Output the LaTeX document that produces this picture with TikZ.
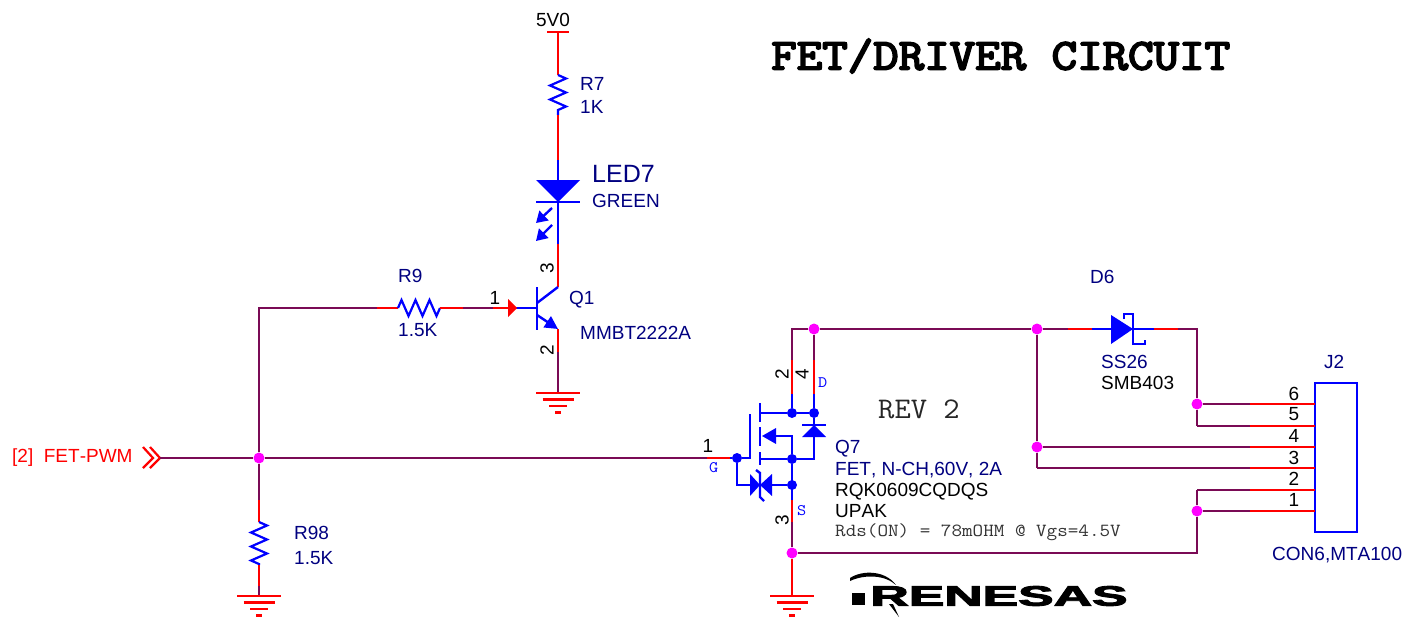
\documentclass[tikz,border=0pt]{standalone}
\usepackage{fontspec}
\setmainfont[Kerning=Off]{Liberation Sans}
\newfontfamily\titlefam[FakeBold=4]{Latin Modern Mono}
\newfontfamily\monofam{Latin Modern Mono}
\newfontfamily\logofam[FakeBold=3]{Liberation Sans Bold}
\usetikzlibrary{arrows.meta,decorations.pathmorphing}
\definecolor{wirecol}{HTML}{7A0A55}
\definecolor{pincol}{HTML}{FF0000}
\definecolor{bodycol}{HTML}{0000FF}
\definecolor{labcol}{HTML}{000080}
\definecolor{dotcol}{HTML}{FF00FF}
\tikzset{
  wire/.style={draw=wirecol,line width=2.2pt},
  pinw/.style={draw=pincol,line width=2.2pt},
  body/.style={draw=bodycol,line width=2.4pt},
  resist/.style={draw=bodycol,line width=2.2pt,decorate,decoration={zigzag,segment length=14pt,amplitude=8pt}},
  lab/.style={anchor=west,inner sep=0pt,text height=13.6pt,text depth=0pt,text=labcol,font=\fontsize{19}{21}\selectfont},
  blk/.style={lab,text=black},
  num/.style={inner sep=0pt,text=black,font=\fontsize{19}{21}\selectfont},
  monolab/.style={anchor=west,inner sep=0pt,transform shape,xscale=1.11,font=\monofam\fontsize{18.5}{20}\selectfont},
  pinletter/.style={monolab,text=bodycol,font=\monofam\fontsize{16}{18}\selectfont},
  jdot/.style={circle,fill=dotcol,inner sep=0pt,minimum size=11pt},
  bdot/.style={circle,fill=bodycol,inner sep=0pt,minimum size=10pt},
}
\newcommand{\gndmark}[1]{
  \draw[pinw] ([shift={(-22,0)}]#1) -- ([shift={(22,0)}]#1);
  \draw[pinw] ([shift={(-15.5,6.5)}]#1) -- ([shift={(15.5,6.5)}]#1);
  \draw[pinw] ([shift={(-9,13)}]#1) -- ([shift={(9,13)}]#1);
  \draw[pinw] ([shift={(-3,19.5)}]#1) -- ([shift={(3,19.5)}]#1);
}
\begin{document}
\begin{tikzpicture}[x=1pt,y=-1pt]
  \useasboundingbox (0,0) rectangle (1407,618);
  % left side
  \node[anchor=west,inner sep=0pt,text=pincol,font=\fontsize{19}{21}\selectfont] (pwm) at (12,458) {[2]\ \ FET-PWM};
  \coordinate (pwmin) at (160,458);
  \draw[pinw] (143,447) -- (153,458) -- (143,468);
  \draw[pinw] (150,447) -- (pwmin) -- (150,468);
  \coordinate (gfree) at (707,458);
  \coordinate (gate) at (737,458);
  \node[jdot] (jpwm) at (259,458) {};
  \coordinate (r9turn) at (259,308);
  \coordinate (r9p) at (377,308);
  \coordinate (r9a) at (398,308);
  \coordinate (r9b) at (440,308);
  \coordinate (r9c) at (463,308);
  \coordinate (q1in) at (493,308);
  \coordinate (r98p) at (259,500);
  \coordinate (r98a) at (259,522);
  \coordinate (r98b) at (259,565);
  \coordinate (r98c) at (259,586);
  \coordinate (r98g) at (259,596);
  \draw[wire] (pwmin) -- (jpwm) -- (gfree);
  \draw[wire] (jpwm) -- (r9turn) -- (r9p);
  \draw[wire] (jpwm) -- (r98p);
  \draw[pinw] (r9p) -- (r9a);
  \draw[pinw] (r98p) -- (r98a);
  \draw[resist] (r9a) -- (r9b);
  \draw[resist] (r98a) -- (r98b);
  \draw[pinw] (r9b) -- (r9c);
  \draw[wire] (r9c) -- (q1in);
  \draw[pinw] (r98b) -- (r98c);
  \draw[wire] (r98c) -- (r98g);
  \gndmark{r98g}
  \node[lab] (r9) at (398,276) {R9};
  \node[lab] (r9v) at (398,330) {1.5K};
  \node[lab] (r98) at (294,533) {R98};
  \node[lab] (r98v) at (294,558) {1.5K};
  % transistor and led
  \coordinate (vcc) at (558,32);
  \coordinate (r7a) at (558,75);
  \coordinate (r7b) at (558,115);
  \coordinate (ledtop) at (558,160);
  \coordinate (ledk) at (558,202);
  \coordinate (colb) at (558,244);
  \coordinate (colc) at (558,287);
  \coordinate (bas) at (537,308);
  \coordinate (emi) at (558,329);
  \coordinate (emib) at (558,352);
  \coordinate (q1gnd) at (558,393);
  \node[text=black,inner sep=0pt,font=\fontsize{19}{21}\selectfont] (v5) at (553,20) {5V0};
  \draw[pinw] (547,32) -- (569,32);
  \draw[pinw] (vcc) -- (r7a);
  \draw[resist] (r7a) -- (r7b);
  \draw[pinw] (r7b) -- (ledtop);
  \draw[body] (ledtop) -- (colb);
  \fill[bodycol] (536,180) -- (580,180) -- (ledk) -- cycle;
  \draw[body] (536,202) -- (580,202);
  \draw[body,-{Triangle[length=11pt,width=13pt]}] (552,208) -- (536,223);
  \draw[body,-{Triangle[length=11pt,width=13pt]}] (552,225) -- (536,241);
  \draw[pinw] (colb) -- (colc);
  \draw[body] (colc) -- (537,303);
  \draw[body] (537,287) -- (537,330);
  \draw[body] (516,308) -- (bas);
  \fill[pincol] (508,299) -- (517,308) -- (508,317) -- cycle;
  \draw[pinw] (q1in) -- (510,308);
  \draw[body,-{Triangle[length=13pt,width=13pt]}] (537,315) -- (emi);
  \draw[pinw] (emi) -- (emib);
  \draw[wire] (emib) -- (q1gnd);
  \gndmark{q1gnd}
  \node[lab] (r7) at (580,84) {R7};
  \node[lab] (r7v) at (580,107) {1K};
  \node[lab,text height=18pt,font=\fontsize{25}{27}\selectfont] (led) at (592,173) {LED7};
  \node[lab] (ledv) at (592,201) {GREEN};
  \node[lab] (q1) at (569,298) {Q1};
  \node[lab] (q1v) at (580,333) {MMBT2222A};
  \node[num] (q1p1) at (495,298) {1};
  \node[num,rotate=90] (q1p3) at (547,268) {3};
  \node[num,rotate=90] (q1p2) at (547,350) {2};
  % fet
  \node[jdot] (jtop) at (814,329) {};
  \node[jdot] (jbot) at (792,553) {};
  \coordinate (dleft) at (792,329);
  \coordinate (p2a) at (792,360);
  \coordinate (p2b) at (792,394);
  \coordinate (p4a) at (814,360);
  \coordinate (p4b) at (814,394);
  \node[bdot] (nd2) at (792,413) {};
  \node[bdot] (nd4) at (814,413) {};
  \node[bdot] (nsrc) at (792,459) {};
  \node[bdot] (nzen) at (792,485) {};
  \node[bdot] (ngate) at (737,458) {};
  \coordinate (s1) at (792,500);
  \coordinate (s2) at (792,522);
  \coordinate (q7gnd) at (792,596);
  \draw[wire] (jtop) -- (dleft) -- (p2a);
  \draw[wire] (jtop) -- (p4a);
  \draw[pinw] (p2a) -- (p2b);
  \draw[pinw] (p4a) -- (p4b);
  \draw[body] (p2b) -- (nd2);
  \draw[body] (p4b) -- (nd4);
  \draw[pinw] (gfree) -- (730,458);
  \draw[body] (730,458) -- (ngate) -- (750,458) -- (750,414);
  \draw[body] (760,403) -- (760,422);
  \draw[body] (760,427) -- (760,446);
  \draw[body] (760,452) -- (760,465);
  \draw[body] (760,413) -- (nd2) -- (nd4);
  \draw[body] (760,459) -- (nsrc) -- (814,459) -- (nd4);
  \draw[body] (776,436) -- (792,436) -- (nsrc);
  \fill[bodycol] (762,436) -- (776,428) -- (776,444) -- cycle;
  \fill[bodycol] (814,425) -- (802,437) -- (826,437) -- cycle;
  \draw[body] (802,425) -- (826,425);
  \draw[body] (ngate) -- (737,485) -- (nzen);
  \draw[body] (nsrc) -- (s1);
  \fill[bodycol] (750,474) -- (760,485) -- (750,496) -- cycle;
  \fill[bodycol] (772,474) -- (760,485) -- (772,496) -- cycle;
  \draw[body] (756,470) -- (760,473) -- (760,497) -- (764,501);
  \draw[pinw] (s1) -- (s2);
  \draw[wire] (s2) -- (jbot);
  \draw[pinw] (jbot) -- (q7gnd);
  \gndmark{q7gnd}
  \node[num] (q7p1) at (708,446) {1};
  \node[num,rotate=90] (q7p2) at (782,374) {2};
  \node[num,rotate=90] (q7p4) at (802,374) {4};
  \node[num,rotate=90] (q7p3) at (782,520) {3};
  \node[pinletter] (pd) at (818,383) {D};
  \node[pinletter] (pg) at (709,468) {G};
  \node[pinletter] (ps) at (797,511) {S};
  \node[lab] (q7) at (835,447) {Q7};
  \node[lab] (q7v) at (835,469) {FET, N-CH,60V, 2A};
  \node[blk] (q7n) at (835,490) {RQK0609CQDQS};
  \node[blk] (q7c) at (835,511) {UPAK};
  \node[monolab,text=black!80] (q7r) at (835,532) {Rds(ON) = 78mOHM @ Vgs=4.5V};
  \node[monolab,text=black!85,xscale=0.95,font=\monofam\fontsize{30}{32}\selectfont] (rev) at (878,409) {REV 2};
  % diode and connector
  \node[jdot] (jd1) at (1037,329) {};
  \node[jdot] (jd2) at (1037,447) {};
  \coordinate (jd3) at (1037,468);
  \coordinate (d6a) at (1068,329);
  \coordinate (d6b) at (1092,329);
  \coordinate (d6c) at (1154,329);
  \coordinate (d6d) at (1178,329);
  \coordinate (d6e) at (1197,329);
  \node[jdot] (jc1) at (1197,404) {};
  \coordinate (jc2) at (1197,426);
  \coordinate (jc3) at (1197,490);
  \node[jdot] (jc4) at (1197,511) {};
  \coordinate (jc5) at (1197,553);
  \draw[wire] (jtop) -- (jd1) -- (d6a);
  \draw[pinw] (d6a) -- (d6b);
  \draw[body] (d6b) -- (d6c);
  \fill[bodycol] (1111,315) -- (1133,329) -- (1111,344) -- cycle;
  \draw[body] (1124,319) -- (1124,314) -- (1133,314) -- (1133,344) -- (1145,344) -- (1145,340);
  \draw[pinw] (d6c) -- (d6d);
  \draw[wire] (d6d) -- (d6e) -- (jc1) -- (jc2);
  \draw[wire] (jd1) -- (jd2) -- (jd3);
  \draw[wire] (jc3) -- (jc4) -- (jc5) -- (jbot);
  \node[draw=bodycol,line width=2.2pt,inner sep=0pt,minimum width=42pt,minimum height=149pt] (j2box) at (1336,457.5) {};
  \coordinate (p6) at (1250,404);
  \coordinate (p5) at (1250,426);
  \coordinate (p4) at (1250,447);
  \coordinate (p3) at (1250,468);
  \coordinate (p2) at (1250,490);
  \coordinate (p1) at (1250,511);
  \draw[wire] (jc1) -- (p6);
  \draw[wire] (jc2) -- (p5);
  \draw[wire] (jd2) -- (p4);
  \draw[wire] (jd3) -- (p3);
  \draw[wire] (jc3) -- (p2);
  \draw[wire] (jc4) -- (p1);
  \draw[pinw] (p6) -- (1315,404);
  \draw[pinw] (p5) -- (1315,426);
  \draw[pinw] (p4) -- (1315,447);
  \draw[pinw] (p3) -- (1315,468);
  \draw[pinw] (p2) -- (1315,490);
  \draw[pinw] (p1) -- (1315,511);
  \node[num] (n6) at (1294,394) {6};
  \node[num] (n5) at (1294,414) {5};
  \node[num] (n4) at (1294,436) {4};
  \node[num] (n3) at (1294,458) {3};
  \node[num] (n2) at (1294,479) {2};
  \node[num] (n1) at (1294,500) {1};
  \node[lab] (d6) at (1090,277) {D6};
  \node[lab] (d6v) at (1101,362) {SS26};
  \node[blk] (d6n) at (1101,383) {SMB403};
  \node[lab] (j2) at (1324,362) {J2};
  \node[lab] (j2v) at (1272,554) {CON6,MTA100};
  % title and logo
  \node[anchor=west,inner sep=0pt,transform shape,xscale=1.125,font=\titlefam\fontsize{44}{46}\selectfont] (title) at (771,56) {FET/DRIVER CIRCUIT};
  \node[anchor=west,inner sep=0pt,transform shape,xscale=1.9,font=\logofam\fontsize{28}{30}\selectfont] (logo) at (870,596) {RENESAS};
  \fill (852,593) rectangle (865,605);
  \fill (850,578) .. controls (862,570) and (885,570) .. (896,585) .. controls (885,575) and (865,574) .. (850,581) -- cycle;
  \fill (889,604) -- (893,604) -- (899,617) -- cycle;
\end{tikzpicture}
\end{document}
